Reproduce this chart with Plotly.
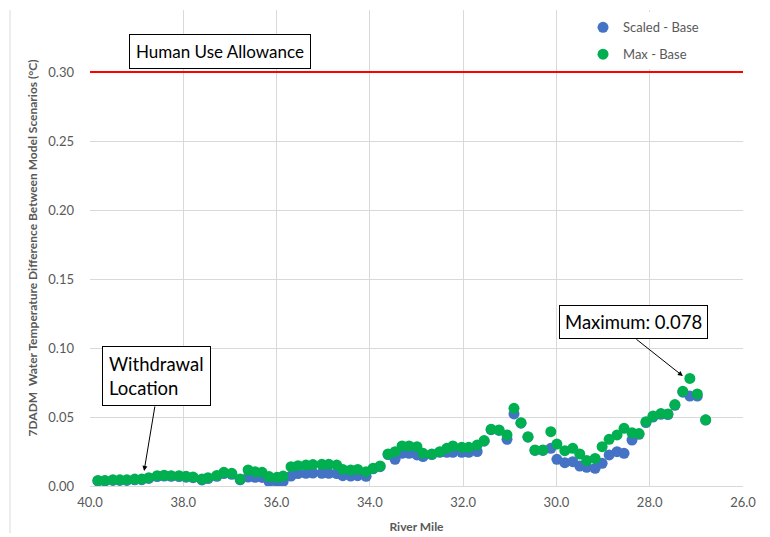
import plotly.graph_objects as go

river_mile = [39.83, 39.68, 39.51, 39.36, 39.21, 39.04, 38.89, 38.74, 38.56, 38.41,
              38.26, 38.09, 37.94, 37.79, 37.60, 37.47, 37.28, 37.13, 36.96, 36.78,
              36.61, 36.46, 36.31, 36.16, 35.99, 35.86, 35.69, 35.54, 35.37, 35.22,
              35.03, 34.88, 34.71, 34.58, 34.41, 34.26, 34.08, 33.93, 33.78, 33.61,
              33.46, 33.31, 33.16, 32.99, 32.86, 32.67, 32.50, 32.35, 32.22, 32.03,
              31.88, 31.70, 31.55, 31.40, 31.23, 31.06, 30.91, 30.76, 30.61, 30.46,
              30.29, 30.12, 29.99, 29.82, 29.65, 29.50, 29.35, 29.17, 29.02, 28.87,
              28.70, 28.55, 28.38, 28.23, 28.08, 27.93, 27.76, 27.61, 27.46, 27.29,
              27.14, 26.98, 26.80]

max_base = [0.0040, 0.0040, 0.0045, 0.0045, 0.0045, 0.0050, 0.0050, 0.0060, 0.0075, 0.0078,
            0.0075, 0.0075, 0.0070, 0.0065, 0.0050, 0.0060, 0.0077, 0.0099, 0.0092, 0.0050,
            0.0116, 0.0104, 0.0099, 0.0068, 0.0063, 0.0072, 0.0140, 0.0147, 0.0152, 0.0155,
            0.0157, 0.0157, 0.0152, 0.0120, 0.0116, 0.0120, 0.0104, 0.0128, 0.0145, 0.0232,
            0.0249, 0.0290, 0.0290, 0.0285, 0.0237, 0.0232, 0.0249, 0.0273, 0.0290, 0.0280,
            0.0280, 0.0297, 0.0329, 0.0411, 0.0406, 0.0370, 0.0563, 0.0459, 0.0357, 0.0261,
            0.0261, 0.0394, 0.0304, 0.0256, 0.0273, 0.0232, 0.0184, 0.0200, 0.0285, 0.0338,
            0.0370, 0.0418, 0.0386, 0.0380, 0.0466, 0.0507, 0.0525, 0.0522, 0.0590, 0.0686,
            0.0780, 0.0667, 0.0480]

scaled_base = [0.0036, 0.0036, 0.0040, 0.0040, 0.0040, 0.0045, 0.0046, 0.0055, 0.0068, 0.0072,
               0.0070, 0.0068, 0.0064, 0.0060, 0.0044, 0.0054, 0.0070, 0.0090, 0.0085, 0.0045,
               0.0065, 0.0063, 0.0062, 0.0032, 0.0031, 0.0033, 0.0072, 0.0090, 0.0092, 0.0094,
               0.0092, 0.0092, 0.0090, 0.0075, 0.0072, 0.0075, 0.0070, 0.0125, 0.0140, 0.0228,
               0.0193, 0.0237, 0.0237, 0.0225, 0.0213, 0.0228, 0.0244, 0.0244, 0.0244, 0.0244,
               0.0244, 0.0250, 0.0325, 0.0408, 0.0403, 0.0338, 0.0522, 0.0455, 0.0354, 0.0258,
               0.0258, 0.0273, 0.0193, 0.0169, 0.0176, 0.0145, 0.0135, 0.0128, 0.0164, 0.0225,
               0.0249, 0.0237, 0.0333, 0.0375, 0.0460, 0.0500, 0.0520, 0.0518, 0.0585, 0.0680,
               0.0652, 0.0652, 0.0478]

x_ticks = [40.0, 38.0, 36.0, 34.0, 32.0, 30.0, 28.0, 26.0]
y_ticks = [0.00, 0.05, 0.10, 0.15, 0.20, 0.25, 0.30]
allowance = 0.30
max_value = 0.078

FONT = "Lato"
GRAY = "#595959"
GRID = "#D9D9D9"

fig = go.Figure()
fig.add_trace(go.Scatter(x=river_mile, y=scaled_base, mode="markers", name="Scaled - Base",
                         legendgroup="a",
                         marker=dict(color="#4472C4", size=11, line=dict(width=0))))
fig.add_trace(go.Scatter(x=river_mile, y=max_base, mode="markers", name="Max - Base",
                         legendgroup="b",
                         marker=dict(color="#00B050", size=11, line=dict(width=0))))

fig.add_shape(type="line", xref="paper", x0=0, x1=1, yref="y", y0=allowance, y1=allowance,
              line=dict(color="#FF0000", width=2))
# chart area left border
fig.add_shape(type="line", xref="paper", x0=-0.1225, x1=-0.1225, yref="paper", y0=1, y1=-0.099,
              line=dict(color=GRID, width=1))

fig.add_annotation(x=37.21, y=0.315, xref="x", yref="y", text="Human Use Allowance",
                   showarrow=False, font=dict(family=FONT, size=17, color="black"),
                   bordercolor="black", borderwidth=1, borderpad=6, bgcolor="white")
fig.add_annotation(x=38.585, y=0.0797, xref="x", yref="y", text="Withdrawal<br>Location",
                   showarrow=False, font=dict(family=FONT, size=18.5, color="black"), align="left",
                   bordercolor="black", borderwidth=1, borderpad=6, bgcolor="white")
fig.add_annotation(x=38.84, y=0.0109, xref="x", yref="y", text="", showarrow=True,
                   ax=11, ay=-66, arrowhead=2, arrowsize=1, arrowwidth=1, arrowcolor="black")
fig.add_annotation(x=28.34, y=0.1188, xref="x", yref="y", text="Maximum: " + f"{max_value:.3f}",
                   showarrow=False, font=dict(family=FONT, size=18.5, color="black"),
                   bordercolor="black", borderwidth=1, borderpad=5, bgcolor="white")
fig.add_annotation(x=27.29, y=0.0797, xref="x", yref="y", text="", showarrow=True,
                   ax=-48, ay=-38, arrowhead=2, arrowsize=1, arrowwidth=1, arrowcolor="black")

fig.update_layout(
    width=762, height=529,
    margin=dict(l=82, r=27, t=2, b=51),
    paper_bgcolor="white", plot_bgcolor="white",
    font=dict(family=FONT, size=13, color=GRAY),
    showlegend=True,
    legend=dict(x=0.755, y=0.995, xanchor="left", yanchor="top", bgcolor="white",
                font=dict(family=FONT, size=13, color=GRAY), tracegroupgap=7,
                itemwidth=30),
    xaxis=dict(range=[40, 26], tickvals=x_ticks, tickformat=".1f", showgrid=True,
               gridcolor=GRID, gridwidth=1, zeroline=False, showline=True, linecolor=GRID,
               ticks="", ticklabelstandoff=4,
               title=dict(text="<b>River Mile</b>", font=dict(family=FONT, size=12, color=GRAY),
                          standoff=14)),
    yaxis=dict(range=[0, 0.345], tickvals=y_ticks, tickformat=".2f", showgrid=True,
               gridcolor=GRID, gridwidth=1, zeroline=False, showline=False,
               ticks="", ticklabelstandoff=15,
               title=dict(text="<b>7DADM  Water Temperature Difference Between Model Scenarios (°C)</b>",
                          font=dict(family=FONT, size=12, color=GRAY), standoff=8)),
)

fig.write_html("out.html")
